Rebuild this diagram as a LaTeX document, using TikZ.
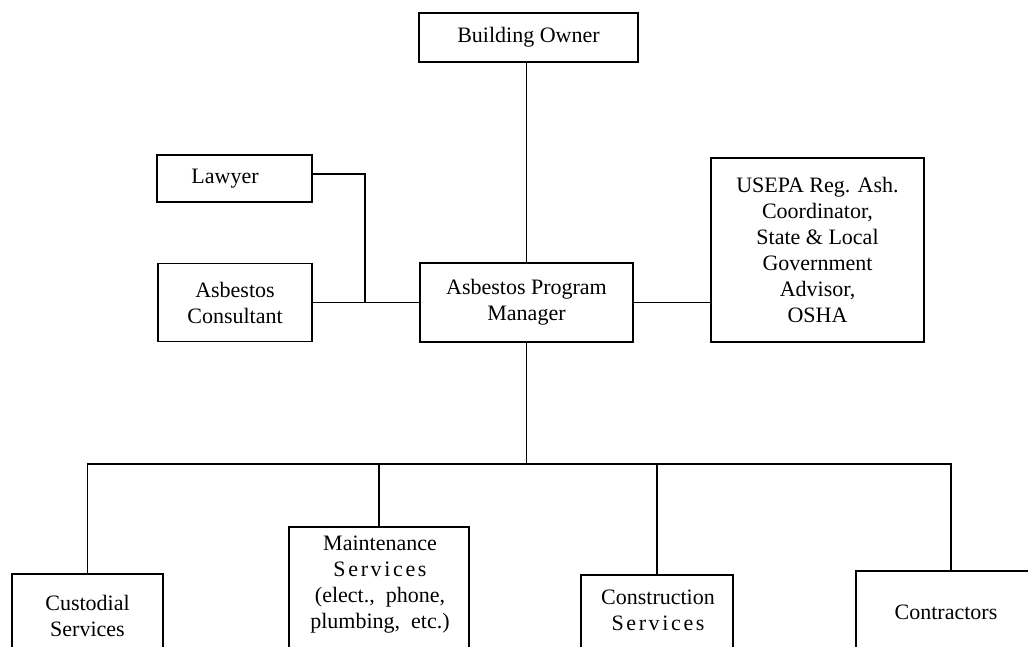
\documentclass[tikz,border=0pt]{standalone}
\usepackage{fontspec}
\setmainfont{Liberation Serif}
\begin{document}
\begin{tikzpicture}[x=1pt,y=-1pt,
  box/.style={draw, line width=1.6pt, inner sep=0pt},
  txt/.style={align=center, font=\fontsize{22}{26}\selectfont, inner sep=0pt},
  wire/.style={line width=1.5pt}]
\clip (0,0) rectangle (1028,646);
\fill[white] (0,0) rectangle (1028,646);
% upper boxes
\node[box, txt, minimum width=219pt, minimum height=49pt] (bo) at (528.5,37.5) {Building Owner};
\node[box, txt, minimum width=155pt, minimum height=47pt] (lawyer) at (234.5,178.5) {Lawyer\hspace*{19pt}};
\node[box, txt, minimum width=154pt, minimum height=78pt] (cons) at (235,302.5) {Asbestos\\Consultant};
\node[box, txt, minimum width=213pt, minimum height=79pt] (apm) at (526.5,302.5) {Asbestos Program\\Manager};
\node[box, txt, minimum width=213pt, minimum height=184pt] (epa) at (817.5,250) {USEPA Reg. Ash.\\Coordinator,\\State \& Local\\Government\\Advisor,\\OSHA};
% lower boxes (cut off at the bottom edge)
\node[box, minimum width=151pt, minimum height=130pt, anchor=north] (cust) at (87.5,573) {};
\node[txt] (custT) at (87.5,615.5) {Custodial\\Services};
\node[box, minimum width=180pt, minimum height=160pt, anchor=north] (maint) at (379,526) {};
\node[txt] (maintT) at (380,585) {Maintenance\\{\addfontfeature{LetterSpace=12}Services}\\(elect.,\ \ phone,\\plumbing,\ \ etc.)};
\node[box, minimum width=152pt, minimum height=130pt, anchor=north] (constr) at (657,574) {};
\node[txt] (constrT) at (658,610) {Construction\\{\addfontfeature{LetterSpace=12}Services}};
\node[box, minimum width=190pt, minimum height=130pt, anchor=north] (contr) at (951,570) {};
\node[txt] (contrT) at (946,612) {Contractors};
% connectors
\coordinate (j) at (365,302.5);
\coordinate (bus) at (527,464);
\draw[wire] (apm.north) -- (apm.north |- bo.south);
\draw[wire] (cons.east) -- (apm.west);
\draw[wire] (apm.east) -- (apm.east -| epa.west);
\draw[wire] ([yshift=4.5pt]lawyer.east) -| (j);
\draw[wire] (apm.south) -- (apm.south |- bus);
\draw[wire] (cust.north) -- (cust.north |- bus) -- (contr.north |- bus) -- (contr.north);
\draw[wire] (maint.north) -- (maint.north |- bus);
\draw[wire] (constr.north) -- (constr.north |- bus);
\end{tikzpicture}
\end{document}
